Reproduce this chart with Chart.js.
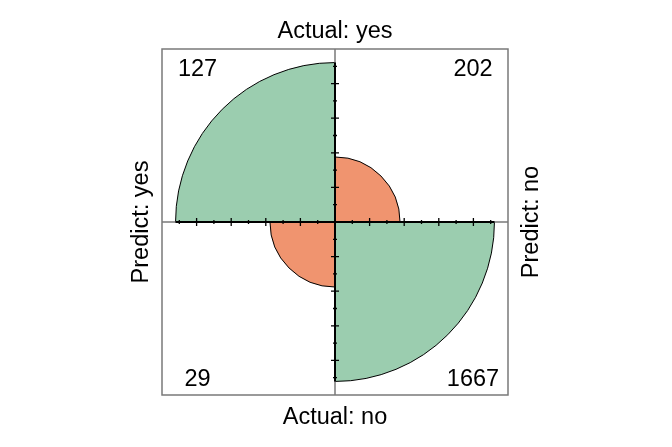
<!DOCTYPE html>
<html>
<head>
<meta charset="utf-8">
<script src="https://cdn.jsdelivr.net/npm/chart.js@4/dist/chart.umd.min.js"></script>
<style>
  html, body { margin: 0; padding: 0; background: #fff; }
  #wrap { width: 672px; height: 447px; }
</style>
</head>
<body>
<div id="wrap"><canvas id="myChart"></canvas></div>
<script>
const actualLabels = ['Actual: yes', 'Actual: no'];
const predictLabels = ['Predict: yes', 'Predict: no'];
const actualYes = [127, 202];   // predict yes, predict no
const actualNo = [29, 1667];    // predict yes, predict no

const verde = '#9bcdaf';
const laranja = '#f0946f';
const fonte = '23.5px "Liberation Sans", Arial, sans-serif';

// fourfold standardisation: equal row and column margins, odds ratio kept
const padroniza = (t) => {
    let m = t.map(r => r.slice());
    for (let i = 0; i < 200; i++) {
        m = m.map(r => r.map(v => v / (r[0] + r[1])));
        const c0 = m[0][0] + m[1][0];
        const c1 = m[0][1] + m[1][1];
        m = m.map(r => [r[0] / c0, r[1] / c1]);
    }
    return m;
}

const tabela = [actualYes, actualNo];
const std = padroniza(tabela);
const maior = Math.max(...std.flat());
const raio = (v) => Math.sqrt(v / maior);

// clockwise from 12 o'clock: top-right, bottom-right, bottom-left, top-left
const celulas = [[0, 1], [1, 1], [1, 0], [0, 0]];
const valores = celulas.map(([i, j]) => raio(std[i][j]));
const contagens = celulas.map(([i, j]) => tabela[i][j]);
const cores = celulas.map(([i, j]) => i === j ? verde : laranja);

const quadro = {
    id: 'quadro',
    afterDatasetsDraw(chart) {
        const r = chart.scales.r;
        const ctx = chart.ctx;
        const cx = r.xCenter, cy = r.yCenter, da = r.drawingArea;
        const um = r.getDistanceFromCenterForValue(1);

        ctx.save();
        ctx.strokeStyle = '#7a7a7a';
        ctx.lineWidth = 1.5;
        ctx.beginPath();
        ctx.moveTo(cx - da, cy); ctx.lineTo(cx + da, cy);
        ctx.moveTo(cx, cy - da); ctx.lineTo(cx, cy + da);
        ctx.rect(cx - da, cy - da, 2 * da, 2 * da);
        ctx.stroke();

        ctx.strokeStyle = '#000';
        ctx.lineWidth = 2;
        ctx.beginPath();
        ctx.moveTo(cx - um, cy); ctx.lineTo(cx + um, cy);
        ctx.moveTo(cx, cy - um); ctx.lineTo(cx, cy + um);
        ctx.stroke();

        ctx.lineWidth = 1.3;
        ctx.beginPath();
        for (let k = 1; k < 10; k++) {
            const d = da * k / 10;
            const h = k % 2 === 0 ? 4 : 2;
            [-1, 1].forEach(s => {
                ctx.moveTo(cx + s * d, cy - h); ctx.lineTo(cx + s * d, cy + h);
                ctx.moveTo(cx - h, cy + s * d); ctx.lineTo(cx + h, cy + s * d);
            });
        }
        ctx.stroke();

        ctx.fillStyle = '#000';
        ctx.font = fonte;
        ctx.textAlign = 'center';
        ctx.textBaseline = 'alphabetic';

        // counts in the corners
        const cantos = [[138, -146], [138, 164], [-137.5, 164], [-137.5, -146]];
        contagens.forEach((c, n) => {
            ctx.fillText(String(c), cx + cantos[n][0], cy + cantos[n][1]);
        });

        ctx.fillText(actualLabels[0], cx, cy - da - 11);
        ctx.fillText(actualLabels[1], cx, cy + da + 29);

        ctx.save();
        ctx.translate(cx - da - 14, cy);
        ctx.rotate(-Math.PI / 2);
        ctx.fillText(predictLabels[0], 0, 0);
        ctx.restore();

        ctx.save();
        ctx.translate(cx + da + 30, cy);
        ctx.rotate(-Math.PI / 2);
        ctx.fillText(predictLabels[1], 0, 0);
        ctx.restore();

        ctx.restore();
    }
};

let myChart;

const grafico = () => {
    let ctx = document.getElementById('myChart').getContext('2d');

    if (myChart) {
        myChart.destroy();
    }

    myChart = new Chart(ctx, {
        type: 'polarArea',
        data: {
            labels: contagens.map(String),
            datasets: [{
                data: valores,
                backgroundColor: cores,
                borderColor: '#000',
                borderWidth: 1
            }]
        },
        options: {
            responsive: true,
            maintainAspectRatio: false,
            animation: false,
            layout: {
                padding: { top: 49, bottom: 52, left: 0, right: 1 }
            },
            plugins: {
                legend: { display: false },
                tooltip: { enabled: false }
            },
            scales: {
                r: {
                    min: 0,
                    max: 1.085,
                    startAngle: 0,
                    grid: { display: false },
                    angleLines: { display: false },
                    pointLabels: { display: false },
                    ticks: { display: false }
                }
            }
        },
        plugins: [quadro]
    });
}

window.addEventListener('load', grafico);
</script>
</body>
</html>
